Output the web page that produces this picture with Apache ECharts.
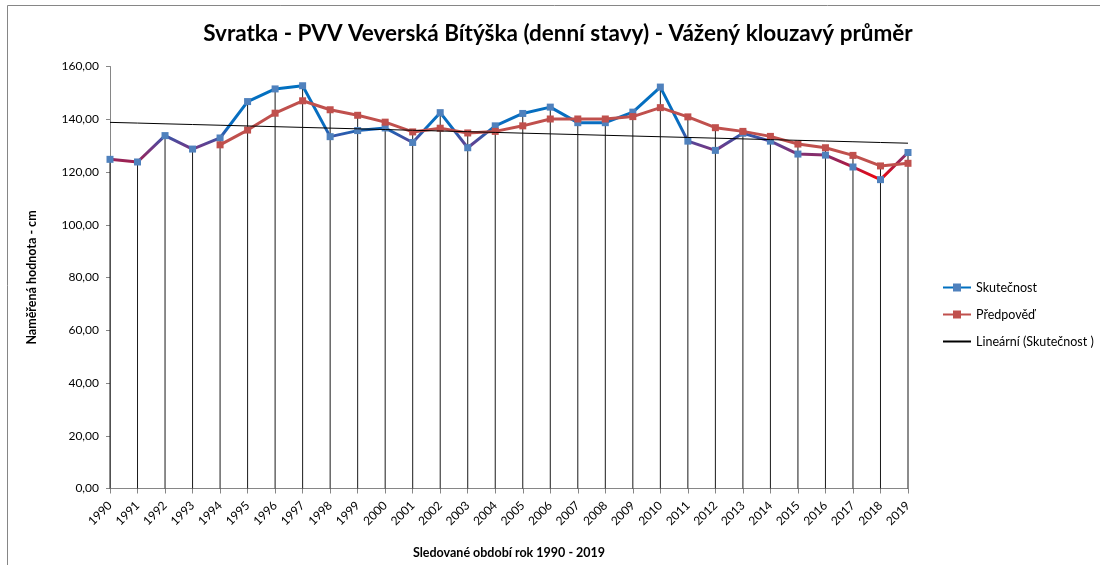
<!DOCTYPE html>
<html>
<head>
<meta charset="utf-8">
<script src="https://cdn.jsdelivr.net/npm/echarts@6/dist/echarts.min.js"></script>
<style>
  html, body { margin: 0; padding: 0; background: #fff; }
  #chart { width: 1100px; height: 565px; }
</style>
</head>
<body>
<div id="chart"></div>
<script>
const years = ['1990','1991','1992','1993','1994','1995','1996','1997','1998','1999',
  '2000','2001','2002','2003','2004','2005','2006','2007','2008','2009',
  '2010','2011','2012','2013','2014','2015','2016','2017','2018','2019']

const actual = [124.8, 123.8, 133.8, 128.7, 132.9, 146.7, 151.5, 152.7, 133.4, 135.7,
  136.7, 131.2, 142.5, 129.2, 137.5, 142.2, 144.6, 138.7, 138.7, 142.7,
  152.2, 131.7, 128.2, 134.7, 131.7, 126.8, 126.4, 121.9, 117.1, 127.4]

const forecast = [null, null, null, null, 130.3, 135.9, 142.3, 147.0, 143.6, 141.5,
  138.9, 135.2, 136.6, 134.8, 135.4, 137.5, 140.1, 140.1, 140.1, 141.0,
  144.4, 140.9, 136.8, 135.4, 133.5, 130.6, 129.2, 126.3, 122.3, 123.3]

const yTicks = [0, 20, 40, 60, 80, 100, 120, 140, 160]

// linear trendline of Skutečnost (least squares)
const n = actual.length
let sx = 0, sy = 0, sxy = 0, sxx = 0
actual.forEach((v, i) => { sx += i; sy += v; sxy += i * v; sxx += i * i })
const slope = (n * sxy - sx * sy) / (n * sxx - sx * sx)
const icpt = (sy - slope * sx) / n
const trend = actual.map((_, i) => +(icpt + slope * i).toFixed(2))

// drop lines go from the higher of the two points down to the axis
const drops = actual.map((v, i) => forecast[i] == null ? v : Math.max(v, forecast[i]))

const D = 'da' + 'ta'
const font = 'Lato'
const chart = echarts.init(document.getElementById('chart'))

const option = {
  backgroundColor: '#fff',
  textStyle: { fontFamily: font },
  animation: false,
  title: {
    text: 'Svratka - PVV Veverská Bítýška (denní stavy) - Vážený klouzavý průměr',
    left: 553,
    textAlign: 'center',
    top: 17,
    textStyle: { fontFamily: font, fontSize: 22.5, fontWeight: 'bold', color: '#000' }
  },
  graphic: [{
    type: 'rect',
    shape: { x: 7.5, y: 5.5, width: 1200, height: 1000 },
    style: { fill: 'none', stroke: '#868686', lineWidth: 1 }
  }],
  legend: {
    orient: 'vertical',
    left: 937,
    top: 276,
    itemWidth: 28,
    itemHeight: 10,
    itemGap: 14,
    textStyle: { fontFamily: font, fontSize: 12.5, color: '#000' },
    [D]: [
      { name: 'Skutečnost', lineStyle: { color: '#0070c0' } },
      { name: 'Předpověď' },
      { name: 'Lineární (Skutečnost )', itemStyle: { opacity: 0 } }
    ]
  },
  grid: { left: 110, right: 192, top: 66.5, bottom: 76.5 },
  xAxis: {
    type: 'category',
    [D]: years,
    boundaryGap: false,
    name: 'Sledované období rok 1990 - 2019',
    nameLocation: 'middle',
    nameGap: 58,
    nameTextStyle: { fontFamily: font, fontSize: 12.5, fontWeight: 'bold', color: '#000' },
    axisLine: { lineStyle: { color: '#868686' } },
    axisTick: { alignWithLabel: true, length: 5, lineStyle: { color: '#868686' } },
    axisLabel: { rotate: 45, fontSize: 12, color: '#000', margin: 15, interval: 0 },
    splitLine: { show: false }
  },
  yAxis: {
    type: 'value',
    min: yTicks[0],
    max: yTicks[yTicks.length - 1],
    interval: 20,
    name: 'Naměřená hodnota - cm',
    nameLocation: 'middle',
    nameGap: 72,
    nameTextStyle: { fontFamily: font, fontSize: 12.5, fontWeight: 'bold', color: '#000' },
    axisLine: { show: true, lineStyle: { color: '#868686' } },
    axisTick: { show: true, length: 4, lineStyle: { color: '#868686' } },
    axisLabel: {
      fontSize: 12, color: '#000', margin: 11,
      formatter: v => v.toFixed(2).replace('.', ',')
    },
    splitLine: { show: false }
  },
  series: [
    {
      name: 'drops',
      type: 'bar',
      [D]: drops,
      barWidth: 1,
      itemStyle: { color: '#1a1a1a' },
      silent: true,
      z: 1
    },
    {
      name: 'Skutečnost',
      type: 'line',
      [D]: actual,
      symbol: 'rect',
      symbolSize: 7,
      itemStyle: { color: '#4f81bd' },
      lineStyle: {
        width: 3,
        color: new echarts.graphic.LinearGradient(0, 1, 0, 0, [
          { offset: 0, color: '#ff0000' },
          { offset: 0.2, color: '#a0204f' },
          { offset: 0.37, color: '#663e8e' },
          { offset: 0.56, color: '#0a6dc0' },
          { offset: 1, color: '#0070c0' }
        ])
      },
      z: 3
    },
    {
      name: 'Předpověď',
      type: 'line',
      [D]: forecast,
      symbol: 'rect',
      symbolSize: 7,
      itemStyle: { color: '#c0504d' },
      lineStyle: { width: 3, color: '#c0504d' },
      z: 4
    },
    {
      name: 'Lineární (Skutečnost )',
      type: 'line',
      [D]: trend,
      symbol: 'none',
      itemStyle: { color: '#000' },
      lineStyle: { width: 1, color: '#000' },
      z: 5
    }
  ]
}

chart.setOption(option)
</script>
</body>
</html>
